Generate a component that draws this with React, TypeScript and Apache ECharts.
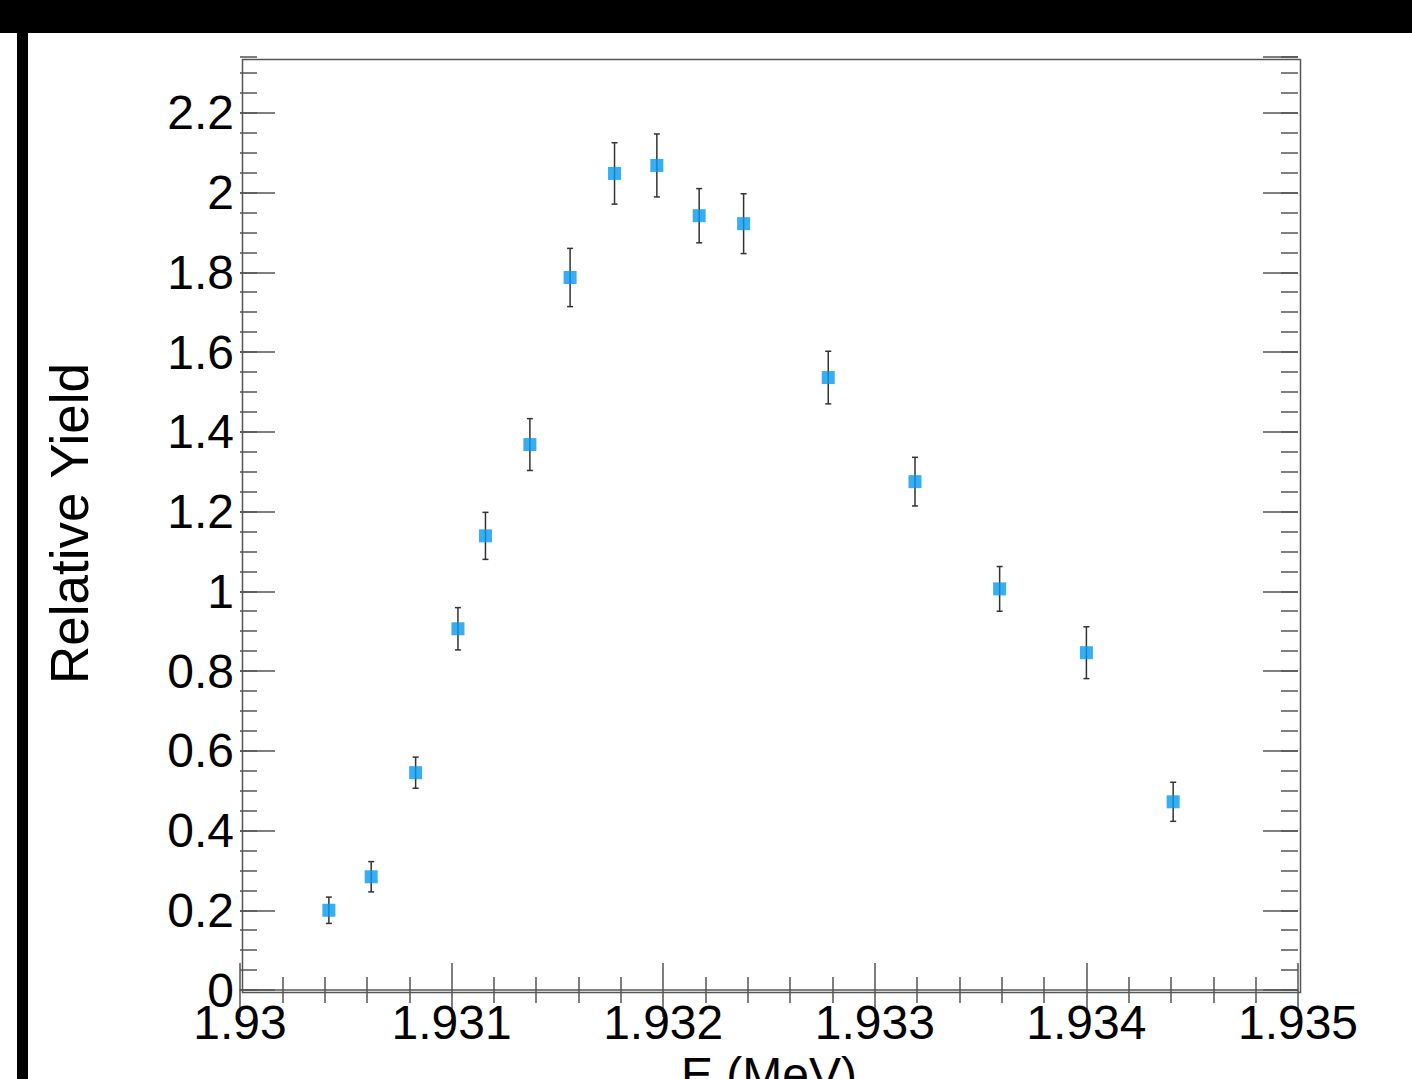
import React, { useEffect, useRef } from "react";
import * as echarts from "echarts";

const energies = [
  1.93042, 1.93062, 1.93083, 1.93103, 1.93116, 1.93137, 1.93156, 1.93177,
  1.93197, 1.93217, 1.93238, 1.93278, 1.93319, 1.93359, 1.934, 1.93441,
];
const yields = [
  0.2, 0.284, 0.545, 0.906, 1.139, 1.368, 1.787, 2.048, 2.068, 1.942, 1.922,
  1.536, 1.275, 1.006, 0.846, 0.472,
];
const errors = [
  0.033, 0.038, 0.039, 0.053, 0.059, 0.065, 0.073, 0.077, 0.079, 0.068, 0.075,
  0.066, 0.061, 0.056, 0.065, 0.049,
];

const X_MIN = 1.93;
const X_MAX = 1.935;
const Y_MIN = 0;
const Y_MAX = 2.34;

const FONT = "Liberation Sans, Arial, Helvetica, sans-serif";
const AXIS_COLOR = "#555";

export default function App() {
  const ref = useRef<HTMLDivElement>(null);

  useEffect(() => {
    if (!ref.current) return;
    const chart = echarts.init(ref.current, undefined, { renderer: "svg" });

    const points = energies.map((e, i) => [e, yields[i]]);
    const errData = energies.map((e, i) => [e, yields[i] - errors[i], yields[i] + errors[i]]);

    const fmtX = (v: number) => parseFloat(v.toFixed(4)).toString();
    const fmtY = (v: number) => {
      const r = Math.round(v * 1000) / 1000;
      if (Math.abs(r / 0.2 - Math.round(r / 0.2)) > 1e-6) return "";
      return parseFloat(r.toFixed(2)).toString();
    };

    const yBase = (extra: any) => ({
      type: "value",
      min: Y_MIN,
      max: Y_MAX,
      splitLine: { show: false },
      axisLine: { show: false },
      axisLabel: { show: false },
      ...extra,
    });

    const option: any = {
      animation: false,
      backgroundColor: "#ffffff",
      graphic: [
        { type: "rect", left: 0, top: 0, shape: { width: 1412, height: 33 }, style: { fill: "#000" }, z: 100 },
        { type: "rect", left: 17, top: 33, shape: { width: 11, height: 1046 }, style: { fill: "#000" }, z: 100 },
        {
          type: "rect",
          left: 240,
          top: 57,
          shape: { width: 1058, height: 933 },
          style: { fill: "none", stroke: AXIS_COLOR, lineWidth: 1.5 },
          z: 50,
        },
      ],
      grid: {
        left: 240,
        top: 57,
        right: 114,
        bottom: 89,
        containLabel: false,
        outerBoundsMode: "none",
      },
      xAxis: [
        {
          type: "value",
          position: "bottom",
          min: X_MIN,
          max: X_MAX,
          interval: 0.001,
          name: "E (MeV)",
          nameLocation: "middle",
          nameGap: 58,
          nameTextStyle: { fontFamily: FONT, fontSize: 48, color: "#000", verticalAlign: "top" },
          splitLine: { show: false },
          axisLine: { show: true, onZero: false, lineStyle: { color: AXIS_COLOR, width: 1.5 } },
          axisTick: { show: true, inside: true, length: 27, lineStyle: { color: AXIS_COLOR, width: 1.5 } },
          minorTick: { show: true, splitNumber: 5, length: 13, lineStyle: { color: AXIS_COLOR, width: 1.5 } },
          axisLabel: {
            show: true,
            fontFamily: FONT,
            fontSize: 48,
            color: "#000",
            margin: 8,
            formatter: fmtX,
            showMinLabel: true,
            showMaxLabel: true,
          },
        },
        {
          type: "value",
          position: "top",
          min: X_MIN,
          max: X_MAX,
          interval: 0.001,
          splitLine: { show: false },
          axisLine: { show: false },
          axisTick: { show: true, inside: true, length: 27, lineStyle: { color: AXIS_COLOR, width: 1.5 } },
          minorTick: { show: true, splitNumber: 5, length: 13, lineStyle: { color: AXIS_COLOR, width: 1.5 } },
          axisLabel: { show: false },
        },
      ],
      yAxis: [
        yBase({
          position: "left",
          interval: 0.2,
          name: "Relative Yield",
          nameLocation: "middle",
          nameGap: 144,
          nameRotate: 90,
          nameTextStyle: { fontFamily: FONT, fontSize: 53, color: "#000" },
          axisTick: { show: true, inside: true, length: 35, lineStyle: { color: AXIS_COLOR, width: 1.5 } },
          axisLabel: {
            show: true,
            fontFamily: FONT,
            fontSize: 48,
            color: "#000",
            margin: 6,
            formatter: fmtY,
            showMaxLabel: false,
          },
        }),
        yBase({
          position: "left",
          interval: 0.05,
          axisTick: { show: true, inside: true, length: 17, lineStyle: { color: AXIS_COLOR, width: 1.5 } },
        }),
        yBase({
          position: "right",
          interval: 0.2,
          axisTick: { show: true, inside: true, length: 35, lineStyle: { color: AXIS_COLOR, width: 1.5 } },
        }),
        yBase({
          position: "right",
          interval: 0.05,
          axisTick: { show: true, inside: true, length: 17, lineStyle: { color: AXIS_COLOR, width: 1.5 } },
        }),
      ],
      series: [
        {
          type: "custom",
          xAxisIndex: 0,
          yAxisIndex: 0,
          data: errData,
          z: 3,
          renderItem: (params: any, api: any) => {
            const x = api.value(0);
            const lo = api.coord([x, api.value(1)]);
            const hi = api.coord([x, api.value(2)]);
            const cap = 3;
            const st = { stroke: "#333", lineWidth: 1.5 };
            return {
              type: "group",
              children: [
                { type: "line", shape: { x1: lo[0], y1: lo[1], x2: hi[0], y2: hi[1] }, style: st },
                { type: "line", shape: { x1: lo[0] - cap, y1: lo[1], x2: lo[0] + cap, y2: lo[1] }, style: st },
                { type: "line", shape: { x1: hi[0] - cap, y1: hi[1], x2: hi[0] + cap, y2: hi[1] }, style: st },
              ],
            };
          },
        },
        {
          type: "scatter",
          xAxisIndex: 0,
          yAxisIndex: 0,
          data: points,
          symbol: "rect",
          symbolSize: 13,
          itemStyle: { color: "#0799ee" },
          z: 5,
        },
      ],
    };

    chart.setOption(option);
    return () => chart.dispose();
  }, []);

  return (
    <div
      ref={ref}
      style={{ position: "absolute", left: 0, top: 0, width: 1412, height: 1079, background: "#fff" }}
    />
  );
}
